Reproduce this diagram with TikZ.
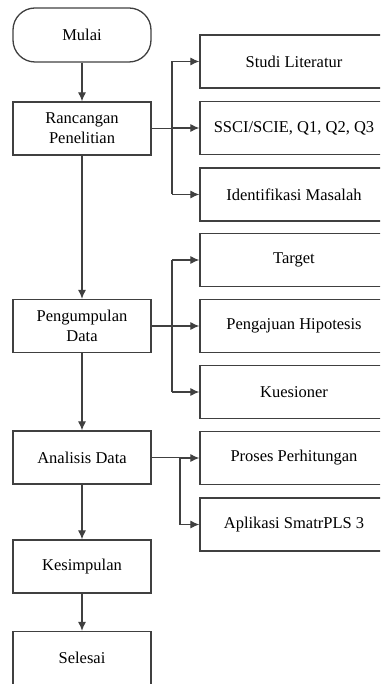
\documentclass[tikz,border=0pt]{standalone}
\usepackage{fontspec}
\setmainfont{Liberation Serif}
\usetikzlibrary{arrows.meta,positioning}

\begin{document}
\begin{tikzpicture}[x=1pt,y=-1pt,
    box/.style={draw=black!75, line width=1.3pt, rectangle, align=center,
        minimum width=138pt, minimum height=53pt, inner sep=0pt,
        font=\fontsize{16.5}{20}\selectfont},
    sidebox/.style={box, minimum width=188pt},
    ln/.style={draw=black!75, line width=1.1pt},
    arr/.style={ln, -{Latex[length=9pt,width=8pt]}}]
    \clip (0,0) rectangle (380,684);
    % main steps
    \node [box, rounded corners=22pt, minimum height=54pt] (mulai) at (82,35) {Mulai};
    \node [box] (rancangan)   at (82,128.5) {Rancangan\\Penelitian};
    \node [box] (pengumpulan) at (82,326)   {Pengumpulan\\Data};
    \node [box] (analisis)    at (82,457.5) {Analisis Data};
    \node [box] (kesimpulan)  at (82,566.5) {Kesimpulan};
    \node [box] (selesai)     at (82,658)   {Selesai};
    % side boxes
    \node [sidebox] (studi)        at (294,61.5)  {Studi Literatur};
    \node [sidebox] (ssci)         at (294,128)   {SSCI/SCIE, Q1, Q2, Q3};
    \node [sidebox] (identifikasi) at (294,194.5) {Identifikasi Masalah};
    \node [sidebox] (target)       at (294,260)   {Target};
    \node [sidebox] (pengajuan)    at (294,326)   {Pengajuan Hipotesis};
    \node [sidebox] (kuesioner)    at (294,392)   {Kuesioner};
    \node [sidebox] (proses)       at (294,458)   {Proses Perhitungan};
    \node [sidebox] (aplikasi)     at (294,524.5) {Aplikasi SmatrPLS 3};

    % main flow
    \draw [arr] (mulai) -- (rancangan);
    \draw [arr] (rancangan) -- (pengumpulan);
    \draw [arr] (pengumpulan) -- (analisis);
    \draw [arr] (analisis) -- (kesimpulan);
    \draw [arr] (kesimpulan) -- (selesai);

    % branches
    \coordinate (rj) at (172,0);
    \coordinate (pj) at (172,0);
    \coordinate (aj) at (180,0);
    \draw [ln] (rancangan.east) -- (rj |- rancangan.east);
    \draw [ln] (rj |- studi.west) -- (rj |- identifikasi.west);
    \foreach \n in {studi,ssci,identifikasi}
        \draw [arr] (rj |- \n.west) -- (\n.west);
    \draw [ln] (pengumpulan.east) -- (pj |- pengumpulan.east);
    \draw [ln] (pj |- target.west) -- (pj |- kuesioner.west);
    \foreach \n in {target,pengajuan,kuesioner}
        \draw [arr] (pj |- \n.west) -- (\n.west);
    \draw [ln] (analisis.east) -- (aj |- analisis.east);
    \draw [ln] (aj |- proses.west) -- (aj |- aplikasi.west);
    \foreach \n in {proses,aplikasi}
        \draw [arr] (aj |- \n.west) -- (\n.west);
\end{tikzpicture}
\end{document}
